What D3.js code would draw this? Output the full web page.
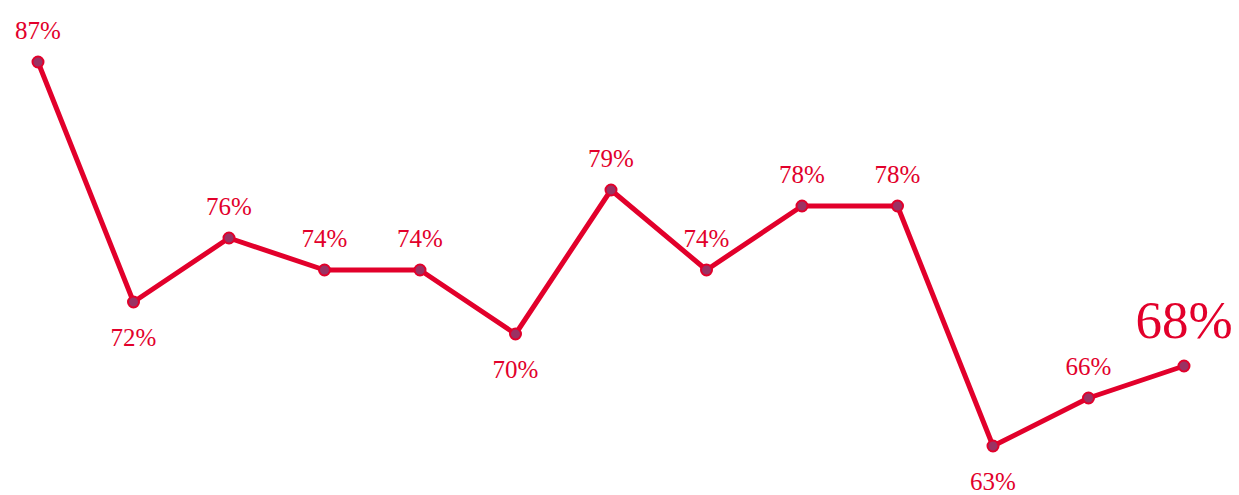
<!DOCTYPE html>
<html>
<head>
<meta charset="utf-8">
<script src="https://cdn.jsdelivr.net/npm/d3@7"></script>
<style>
  body { margin: 0; background: #fff; }
  svg { display: block; }
</style>
</head>
<body>
<div id="chart"></div>
<script>
// values
const periods = ['p1', 'p2', 'p3', 'p4', 'p5', 'p6', 'p7', 'p8', 'p9', 'p10', 'p11', 'p12', 'p13'];
const values = [87, 72, 76, 74, 74, 70, 79, 74, 78, 78, 63, 66, 68];
const labelBelow = [false, true, false, false, false, true, false, false, false, false, true, false, false];

const width = 1239;
const height = 495;
const red = '#e2002b';

const svg = d3.select('#chart')
    .append('svg')
    .attr('width', width)
    .attr('height', height);

const x = d3.scalePoint()
    .domain(periods)
    .range([38, 1184]);

const y = d3.scaleLinear()
    .domain([63, 87])
    .range([446, 62]);

const data = periods.map((p, i) => ({ p: p, v: values[i], below: labelBelow[i], last: i === periods.length - 1 }));

// line
svg.append('path')
    .datum(data)
    .attr('fill', 'none')
    .attr('stroke', red)
    .attr('stroke-width', 5)
    .attr('stroke-linejoin', 'round')
    .attr('d', d3.line().x(d => x(d.p)).y(d => y(d.v)));

// dots
svg.selectAll('circle')
    .data(data)
    .enter()
    .append('circle')
    .attr('cx', d => x(d.p))
    .attr('cy', d => y(d.v))
    .attr('r', 5.5)
    .attr('fill', '#9a3263')
    .attr('stroke', red)
    .attr('stroke-width', 2);

// labels
svg.selectAll('text')
    .data(data)
    .enter()
    .append('text')
    .attr('x', d => x(d.p))
    .attr('y', d => d.last ? y(d.v) - 28 : (d.below ? y(d.v) + 44 : y(d.v) - 23))
    .attr('text-anchor', 'middle')
    .attr('fill', red)
    .style('font-family', '"Liberation Serif", "DejaVu Serif", serif')
    .style('font-size', d => d.last ? '53px' : '25px')
    .text(d => d.v + '%');
</script>
</body>
</html>
